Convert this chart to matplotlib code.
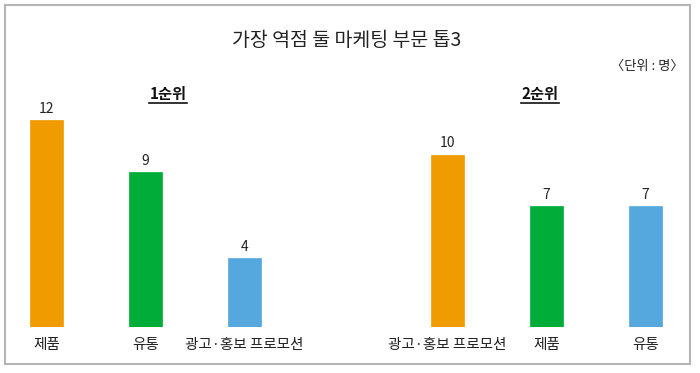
import matplotlib
matplotlib.use("Agg")
import matplotlib.pyplot as plt
from matplotlib.patches import Rectangle

plt.rcParams['font.family'] = ['Noto Sans CJK KR', 'DejaVu Sans']

# data
title = "가장 역점 둘 마케팅 부문 톱3"
unit = "〈단위 : 명〉"
group_names = ["1순위", "2순위"]
first_labels = ["제품", "유통", "광고·홍보 프로모션"]
first_values = [12, 9, 4]
second_labels = ["광고·홍보 프로모션", "제품", "유통"]
second_values = [10, 7, 7]
bar_colors = ["#f09c00", "#00ad38", "#55a8de"]

W, H = 700, 373
fig = plt.figure(figsize=(7, 3.73), dpi=100)

# outer frame
fig.patches.append(Rectangle((5 / W, 9 / H), 685 / W, 359 / H, transform=fig.transFigure,
                             fill=False, edgecolor="#b5b5b5", linewidth=1.5))

fig.text(347 / W, 1 - 41 / H, title, ha="center", va="center", fontsize=14, color="#222222")
fig.text(684 / W, 1 - 66 / H, unit, ha="right", va="center", fontsize=9.5, color="#222222")


def panel(left, labels, values, name, name_x):
    ax = fig.add_axes([left / W, 46 / H, 297 / W, 224 / H])
    x = range(len(values))
    bars = ax.bar(x, values, width=0.33, color=bar_colors, edgecolor=bar_colors, linewidth=0.5)
    for b, v in zip(bars, values):
        ax.text(b.get_x() + b.get_width() / 2, v + 0.25, str(v), ha="center", va="bottom",
                fontsize=10, color="#222222")
    ax.set_xlim(-0.45, 2.55)
    ax.set_ylim(0, 13)
    ax.set_xticks(list(x))
    ax.set_xticklabels(labels, fontsize=10.5, color="#222222")
    ax.tick_params(axis="x", length=0, pad=8)
    ax.set_yticks([])
    for s in ax.spines.values():
        s.set_visible(False)
    ax.patch.set_visible(False)
    fig.text(name_x / W, 1 - 94 / H, name, ha="center", va="center", fontsize=11,
             fontweight="bold", color="#111111")
    fig.add_artist(plt.Line2D([(name_x - 19) / W, (name_x + 19) / W], [1 - 103 / H, 1 - 103 / H],
                              transform=fig.transFigure, color="#111111", linewidth=1.2))
    return ax


panel(2, first_labels, first_values, group_names[0], 168)
panel(403, second_labels, second_values, group_names[1], 540)

fig.savefig("out.png", dpi=100)
